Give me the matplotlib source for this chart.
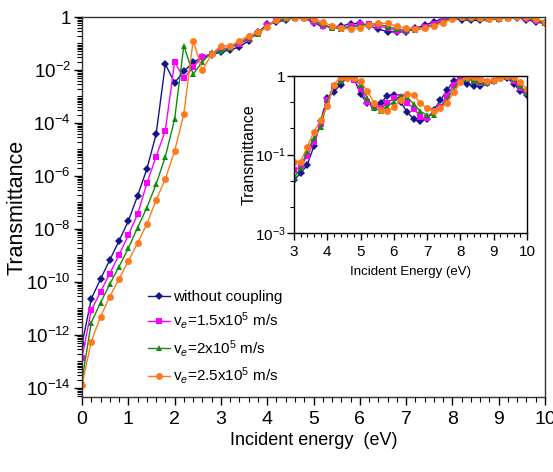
import numpy as np
import matplotlib
matplotlib.use("Agg")
import matplotlib.pyplot as plt
from matplotlib.ticker import FixedLocator, MultipleLocator, LogLocator, NullFormatter

plt.rcParams['font.family'] = ['Liberation Sans', 'DejaVu Sans']
plt.rcParams['mathtext.fontset'] = 'custom'
plt.rcParams['mathtext.rm'] = 'Liberation Sans'
plt.rcParams['mathtext.it'] = 'Liberation Sans:italic'

# Incident energy grid (eV)
energy = np.round(np.arange(0, 10.01, 0.2), 1)

# log10 of transmittance for each coupling case
log_t_no_coupling = [-12.35, -10.64, -9.89, -9.17, -8.45, -7.70, -6.75, -5.74, -4.43, -1.78,
                     -2.48, -2.05, -1.71, -1.52, -1.42, -1.32, -1.24, -1.13, -0.89, -0.57,
                     -0.28, -0.20, -0.11, -0.01, -0.03, -0.23, -0.35, -0.38, -0.35, -0.25,
                     -0.24, -0.33, -0.46, -0.55, -0.57, -0.55, -0.43, -0.31, -0.18, -0.06,
                     -0.05, -0.10, -0.13, -0.13, -0.09, -0.06, -0.03, -0.02, -0.10, -0.19,
                     -0.24]
log_t_ve_15 = [-12.85, -11.07, -10.37, -9.68, -8.98, -8.23, -7.45, -6.28, -5.27, -4.29,
               -1.69, -2.31, -1.90, -1.50, -1.38, -1.20, -1.16, -1.02, -0.84, -0.61,
               -0.31, -0.13, -0.07, -0.03, -0.05, -0.17, -0.33, -0.38, -0.41, -0.35,
               -0.28, -0.27, -0.34, -0.42, -0.52, -0.54, -0.45, -0.39, -0.26, -0.11,
               -0.02, -0.02, -0.06, -0.09, -0.08, -0.06, -0.03, -0.01, -0.07, -0.15,
               -0.21]
log_t_ve_20 = [-13.72, -11.53, -10.78, -10.08, -9.42, -8.73, -7.95, -7.20, -6.31, -5.27,
               -3.86, -1.08, -2.16, -1.69, -1.33, -1.30, -1.17, -0.95, -0.79, -0.65,
               -0.33, -0.13, -0.07, -0.03, -0.01, -0.12, -0.28, -0.41, -0.44, -0.38,
               -0.33, -0.25, -0.27, -0.36, -0.45, -0.50, -0.50, -0.40, -0.30, -0.16,
               -0.05, -0.04, -0.06, -0.08, -0.09, -0.06, -0.03, -0.01, -0.04, -0.13,
               -0.22]
log_t_ve_25 = [-13.89, -12.25, -11.31, -10.55, -9.89, -9.21, -8.54, -7.81, -6.91, -6.11,
               -5.06, -3.66, -0.89, -2.00, -1.40, -1.09, -1.09, -0.90, -0.71, -0.56,
               -0.38, -0.11, -0.01, -0.02, -0.02, -0.07, -0.19, -0.34, -0.43, -0.45,
               -0.40, -0.30, -0.23, -0.24, -0.35, -0.41, -0.44, -0.41, -0.34, -0.21,
               -0.08, -0.01, -0.01, -0.04, -0.07, -0.05, -0.03, 0.00, -0.01, -0.08,
               -0.17]

series_labels = ["without coupling",
                 r"v$_e$=1.5x10$^5$ m/s",
                 r"v$_e$=2x10$^5$ m/s",
                 r"v$_e$=2.5x10$^5$ m/s"]
series_logs = [log_t_no_coupling, log_t_ve_15, log_t_ve_20, log_t_ve_25]
colors = ["#16168c", "#ff00ff", "#138a13", "#ff7a1c"]
markers = ["D", "s", "^", "o"]
msizes = [4.0, 4.2, 5.0, 5.0]

main_yticks = [1e0, 1e-2, 1e-4, 1e-6, 1e-8, 1e-10, 1e-12, 1e-14]
main_yticklabels = ["1"] + [r"$\mathregular{10^{-%d}}$" % k for k in range(2, 15, 2)]
inset_yticks = [1.0, 0.1, 0.01]
inset_yticklabels = ["1", r"$\mathregular{10^{-1}}$", r"$\mathregular{10^{-3}}$"]

fig = plt.figure(figsize=(5.53, 4.72), dpi=100)

# ---- main panel ----
ax = fig.add_axes([82 / 553, 75 / 472, 463 / 553, 380 / 472])
for vals, lab, c, m, ms in zip(series_logs, series_labels, colors, markers, msizes):
    ax.plot(energy, 10.0 ** np.asarray(vals), color=c, lw=1.0, marker=m,
            markersize=ms, markeredgewidth=0, label=lab)
ax.set_yscale("log")
ax.set_xlim(0, 10)
ax.set_ylim(10 ** -14.34, 1)
ax.yaxis.set_major_locator(FixedLocator(main_yticks))
ax.set_yticklabels(main_yticklabels)
ax.yaxis.set_minor_locator(LogLocator(base=10, subs=np.arange(1, 10), numticks=40))
ax.yaxis.set_minor_formatter(NullFormatter())
ax.xaxis.set_major_locator(MultipleLocator(1))
ax.xaxis.set_minor_locator(MultipleLocator(0.2))
ax.tick_params(axis="both", which="major", direction="out", length=6, width=1)
ax.tick_params(axis="x", which="major", labelsize=14, pad=4)
ax.tick_params(axis="y", which="major", labelsize=13.5, pad=2)
ax.tick_params(axis="both", which="minor", direction="out", length=3.5, width=0.8)
for s in ax.spines.values():
    s.set_linewidth(1.0)
    s.set_color("#333333")
ax.set_xlabel("Incident energy  (eV)", fontsize=13, labelpad=3)
ax.set_ylabel("Transmittance", fontsize=15.5)
ax.yaxis.set_label_coords(-0.118, 0.5)

leg = ax.legend(loc="lower left", bbox_to_anchor=(0.12, 0.0), frameon=False,
                fontsize=11, handlelength=1.4, handletextpad=0.25,
                labelspacing=0.42, borderaxespad=0.3)

# ---- inset: 3-10 eV ----
axi = fig.add_axes([294 / 553, (472 - 233) / 472, 233 / 553, 157 / 472])
for vals, c, m, ms in zip(series_logs, colors, markers, msizes):
    axi.plot(energy, 10.0 ** np.asarray(vals), color=c, lw=1.0, marker=m,
             markersize=ms, markeredgewidth=0)
axi.set_yscale("log")
axi.set_xlim(3, 10)
axi.set_ylim(0.01, 1)
axi.yaxis.set_major_locator(FixedLocator(inset_yticks))
axi.set_yticklabels(inset_yticklabels)
axi.yaxis.set_minor_locator(FixedLocator([10 ** (-k / 3) for k in (1, 2, 4, 5)]))
axi.yaxis.set_minor_formatter(NullFormatter())
axi.xaxis.set_major_locator(MultipleLocator(1))
axi.xaxis.set_minor_locator(MultipleLocator(0.2))
axi.tick_params(axis="both", which="major", direction="out", length=5, width=1,
                labelsize=11)
axi.tick_params(axis="x", which="major", pad=4)
axi.tick_params(axis="y", which="major", pad=1)
axi.tick_params(axis="both", which="minor", direction="out", length=3, width=0.8)
for s in axi.spines.values():
    s.set_linewidth(1.0)
axi.set_xlabel("Incident Energy (eV)", fontsize=9.5, labelpad=5)
axi.set_ylabel("Transmittance", fontsize=11.5, labelpad=-1)

fig.savefig("out.png", dpi=100)
